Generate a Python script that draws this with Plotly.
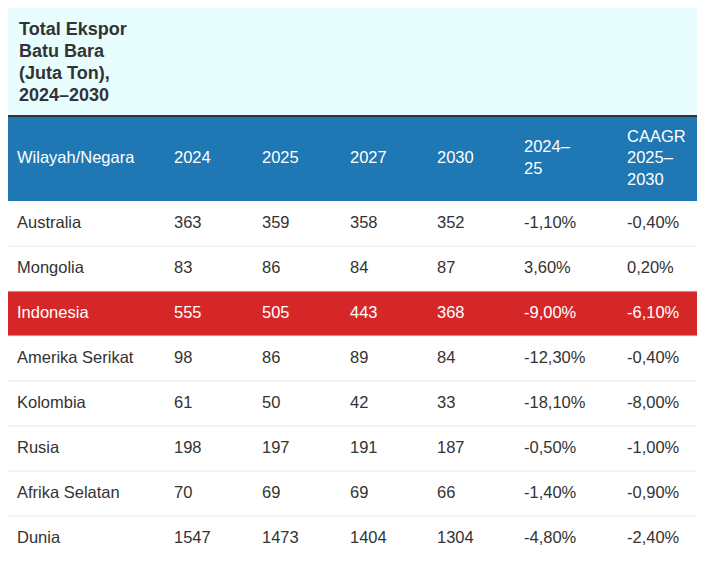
import plotly.graph_objects as go

# data
title_lines = ["Total Ekspor", "Batu Bara", "(Juta Ton),", "2024–2030"]
headers = ["Wilayah/Negara", "2024", "2025", "2027", "2030", "2024–<br>25", "CAAGR<br>2025–<br>2030"]
regions = ["Australia", "Mongolia", "Indonesia", "Amerika Serikat", "Kolombia", "Rusia", "Afrika Selatan", "Dunia"]
v2024 = [363, 83, 555, 98, 61, 198, 70, 1547]
v2025 = [359, 86, 505, 86, 50, 197, 69, 1473]
v2027 = [358, 84, 443, 89, 42, 191, 69, 1404]
v2030 = [352, 87, 368, 84, 33, 187, 66, 1304]
chg_2024_25 = ["-1,10%", "3,60%", "-9,00%", "-12,30%", "-18,10%", "-0,50%", "-1,40%", "-4,80%"]
caagr_25_30 = ["-0,40%", "0,20%", "-6,10%", "-0,40%", "-8,00%", "-1,00%", "-0,90%", "-2,40%"]
highlight = "Indonesia"

# layout (1 axis unit = 1 px)
W, H = 690, 565
col_w = [157, 88, 88, 87, 87, 103, 79]
pad = 9
title_h = 107
rule_h = 2
header_h = 84
row_h = 45
title_line_h = 22
FONT = "Liberation Sans, Arial, sans-serif"
FS = 16.5

col_left = [sum(col_w[:i]) for i in range(len(col_w))]
table_w = sum(col_w)
header_top = title_h + rule_h
body_top = header_top + header_h
row_mid = [body_top + row_h * (i + 0.5) for i in range(len(regions))]

columns = [regions, v2024, v2025, v2027, v2030, chg_2024_25, caagr_25_30]
row_font = ["white" if r == highlight else "#333333" for r in regions]

fig = go.Figure()

# header labels
for j, h in enumerate(headers):
    fig.add_trace(go.Scatter(
        x=[col_left[j] + pad], y=[header_top + header_h / 2], text=[h],
        mode="text", textposition="middle right",
        textfont=dict(family=FONT, size=FS, color="white"),
        hoverinfo="skip", showlegend=False,
    ))

# body cells
for j, col in enumerate(columns):
    fig.add_trace(go.Scatter(
        x=[col_left[j] + pad] * len(col), y=row_mid, text=[str(v) for v in col],
        mode="text", textposition="middle right",
        textfont=dict(family=FONT, size=FS, color=row_font),
        hoverinfo="skip", showlegend=False,
    ))

shapes = [
    dict(type="rect", x0=0, x1=table_w, y0=0, y1=title_h,
         fillcolor="#e8fdfd", line_width=0, layer="below"),
    dict(type="rect", x0=0, x1=table_w, y0=title_h, y1=header_top,
         fillcolor="#333333", line_width=0, layer="below"),
    dict(type="rect", x0=0, x1=table_w, y0=header_top, y1=body_top,
         fillcolor="#1f77b4", line_width=0, layer="below"),
]
for i, r in enumerate(regions):
    if r == highlight:
        shapes.append(dict(type="rect", x0=0, x1=table_w,
                           y0=body_top + i * row_h, y1=body_top + (i + 1) * row_h,
                           fillcolor="#d62728", line_width=0, layer="below"))
for i in range(1, len(regions)):
    yy = body_top + i * row_h
    shapes.append(dict(type="line", x0=0, x1=table_w, y0=yy, y1=yy,
                       line=dict(color="#e8e8e8", width=1), layer="below"))

# title, one annotation per line
n_t = len(title_lines)
annotations = []
for k, line in enumerate(title_lines):
    annotations.append(dict(
        text="<b>" + line + "</b>",
        x=pad, y=title_h / 2 + (k - (n_t - 1) / 2) * title_line_h,
        xanchor="left", yanchor="middle", showarrow=False,
        font=dict(family=FONT, size=18, color="#333333"),
    ))

fig.update_layout(
    width=W, height=H,
    margin=dict(l=0, r=0, t=0, b=0),
    paper_bgcolor="white", plot_bgcolor="white",
    shapes=shapes,
    annotations=annotations,
)
fig.update_xaxes(range=[0, W], visible=False, fixedrange=True)
fig.update_yaxes(range=[H, 0], visible=False, fixedrange=True)

fig.write_html("out.html", config={"displayModeBar": False})
